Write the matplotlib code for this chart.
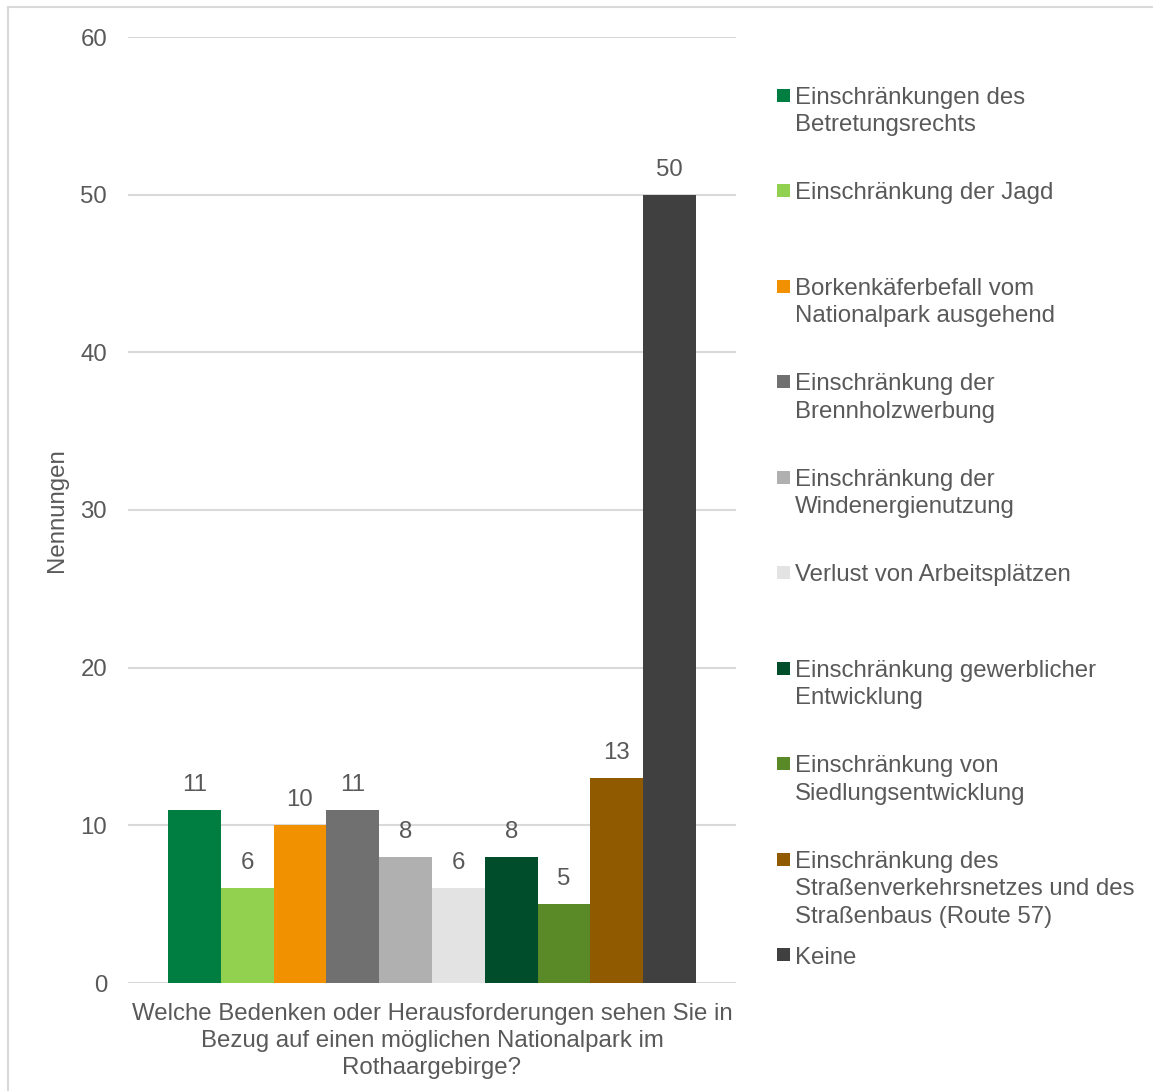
import matplotlib
matplotlib.use("Agg")
import matplotlib.pyplot as plt
from matplotlib.lines import Line2D
from matplotlib.patches import Rectangle
import numpy as np

categories = [
    "Einschränkungen des\nBetretungsrechts",
    "Einschränkung der Jagd",
    "Borkenkäferbefall vom\nNationalpark ausgehend",
    "Einschränkung der\nBrennholzwerbung",
    "Einschränkung der\nWindenergienutzung",
    "Verlust von Arbeitsplätzen",
    "Einschränkung gewerblicher\nEntwicklung",
    "Einschränkung von\nSiedlungsentwicklung",
    "Einschränkung des\nStraßenverkehrsnetzes und des\nStraßenbaus (Route 57)",
    "Keine",
]
values = [11, 6, 10, 11, 8, 6, 8, 5, 13, 50]
colors = ["#007D40", "#92D050", "#F29100", "#707070", "#B0B0B0",
          "#E3E3E3", "#004D2B", "#5A8A28", "#8F5A00", "#404040"]
yticks = [0, 10, 20, 30, 40, 50, 60]
xlabel = "Welche Bedenken oder Herausforderungen sehen Sie in\nBezug auf einen möglichen Nationalpark im\nRothaargebirge?"
ylabel = "Nennungen"

W, H = 1153, 1091
DPI = 100
plt.rcParams['font.family'] = ['Liberation Sans', 'DejaVu Sans']
TXT = "#595959"
FS = 17.3
LINE = 27.3  # px between lines

fig = plt.figure(figsize=(W / DPI, H / DPI), dpi=DPI)
fig.patch.set_facecolor("white")

def fx(px):
    return px / W

def fy(py):
    return 1 - py / H

ax_left, ax_right, ax_top, ax_bottom = 128, 736, 37, 983
ax = fig.add_axes([fx(ax_left), fy(ax_bottom), (ax_right - ax_left) / W, (ax_bottom - ax_top) / H])

n = len(values)
x = np.arange(n)
total = (ax_right - ax_left) / 52.8
margin = (total - n) / 2
ax.bar(x, values, width=1.0, color=colors, zorder=3)
ax.set_xlim(-0.5 - margin, n - 0.5 + margin)
ax.set_ylim(0, 60)
ax.set_yticks(yticks)
ax.set_yticklabels([str(t) for t in yticks], color=TXT, fontsize=FS)
ax.tick_params(axis='y', length=0, pad=15)
ax.set_xticks([])
for s in ax.spines.values():
    s.set_visible(False)
ax.grid(axis='y', color="#D9D9D9", linewidth=1.5, zorder=0)
ax.set_axisbelow(True)

for xi, v in zip(x, values):
    ax.annotate(str(v), (xi, v), xytext=(0, 25 * 72 / DPI), textcoords='offset points',
                ha='center', va='center', fontsize=FS, color=TXT)

ax.set_ylabel(ylabel, fontsize=FS, color=TXT)
ax.yaxis.set_label_coords((68 - ax_left) / (ax_right - ax_left), 0.5)

# x-axis title, one line at a time
xcen = (ax_left + ax_right) / 2
for k, line in enumerate(xlabel.split("\n")):
    fig.text(fx(xcen), fy(1011 + 8.6 + k * LINE), line, fontsize=FS, color=TXT,
             ha='center', va='baseline')

# legend (manual)
leg_y0 = 95
leg_dy = 95.55
for i, (lab, c) in enumerate(zip(categories, colors)):
    cy = leg_y0 + i * leg_dy
    fig.add_artist(Rectangle((fx(777), fy(cy + 6.5)), 13 / W, 13 / H,
                             transform=fig.transFigure, color=c, lw=0))
    for k, line in enumerate(lab.split("\n")):
        fig.text(fx(795), fy(cy + 8.6 + k * LINE), line, fontsize=FS, color=TXT,
                 ha='left', va='baseline')

# outer border
fig.add_artist(Line2D([fx(8), fx(8)], [0, fy(7)], transform=fig.transFigure,
                      color="#D9D9D9", lw=1.5))
fig.add_artist(Line2D([fx(8), 1], [fy(7), fy(7)], transform=fig.transFigure,
                      color="#D9D9D9", lw=1.5))

fig.savefig("out.png", dpi=DPI)
